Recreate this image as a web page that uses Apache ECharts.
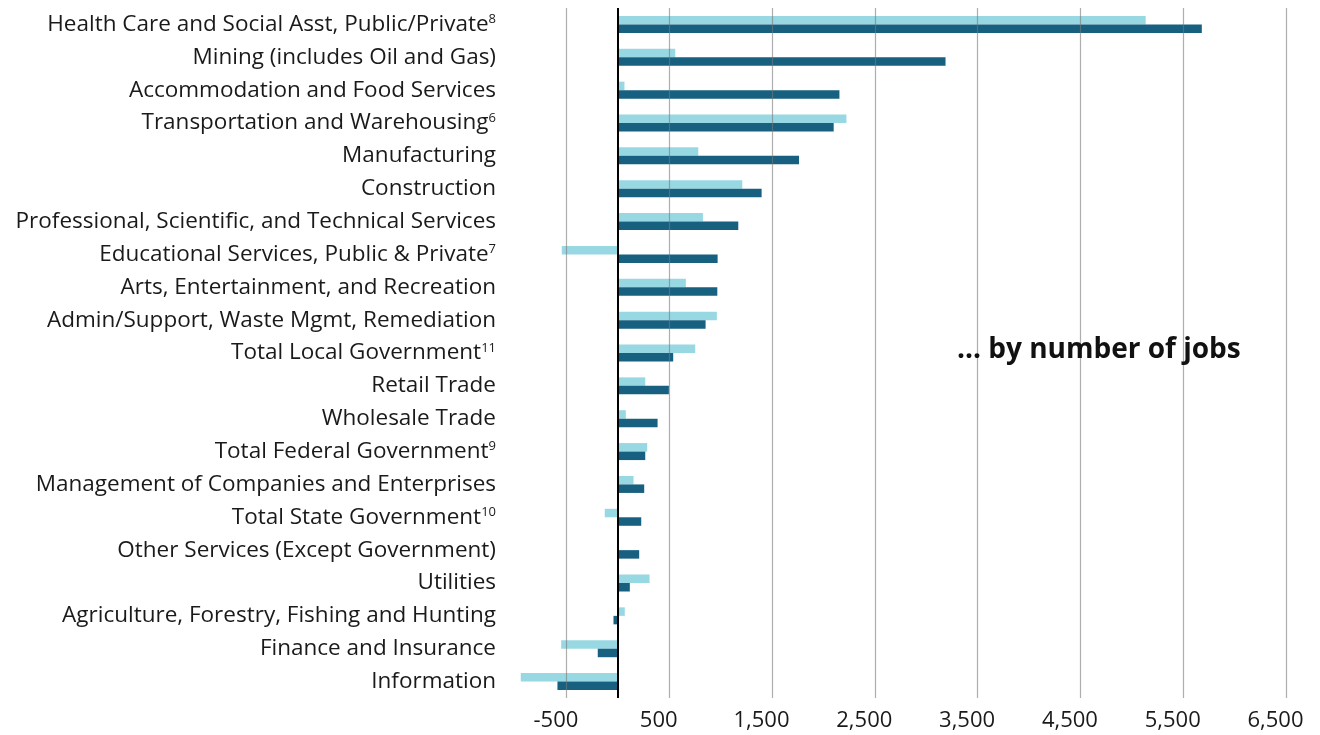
<!DOCTYPE html>
<html>
<head>
<meta charset="utf-8">
<script src="https://cdn.jsdelivr.net/npm/echarts@6/dist/echarts.min.js"></script>
<style>
html,body{margin:0;padding:0;background:#fff;}
#chart{width:1320px;height:735px;}
</style>
</head>
<body>
<div id="chart"></div>
<script>
const categories = [
  'Health Care and Social Asst, Public/Private',
  'Mining (includes Oil and Gas)',
  'Accommodation and Food Services',
  'Transportation and Warehousing',
  'Manufacturing',
  'Construction',
  'Professional, Scientific, and Technical Services',
  'Educational Services, Public & Private',
  'Arts, Entertainment, and Recreation',
  'Admin/Support, Waste Mgmt, Remediation',
  'Total Local Government',
  'Retail Trade',
  'Wholesale Trade',
  'Total Federal Government',
  'Management of Companies and Enterprises',
  'Total State Government',
  'Other Services (Except Government)',
  'Utilities',
  'Agriculture, Forestry, Fishing and Hunting',
  'Finance and Insurance',
  'Information'
];
const footnotes = ['8','','','6','','','','7','','','11','','','9','','10','','','','',''];
const lightValues = [5135, 559, 65, 2224, 783, 1211, 828, -545, 662, 964, 753, 267, 78, 286, 153, -127, 10, 309, 68, -551, -944];
const darkValues  = [5681, 3188, 2156, 2100, 1763, 1399, 1172, 971, 968, 854, 539, 497, 387, 267, 257, 228, 208, 117, -42, -195, -587];
const tickValues = [-500, 500, 1500, 2500, 3500, 4500, 5500, 6500];
const titleText = '... by number of jobs';

const chart = echarts.init(document.getElementById('chart'));
const gridLines = tickValues.map(v => ({ xAxis: v }));

chart.setOption({
  animation: false,
  backgroundColor: '#ffffff',
  textStyle: { fontFamily: 'Open Sans' },
  title: {
    text: titleText,
    left: 952,
    top: 331,
    textStyle: { fontFamily: 'Open Sans', fontSize: 28, fontWeight: 'bold', color: '#111' }
  },
  grid: { left: 515, right: 34, top: 8, bottom: 37, containLabel: false },
  xAxis: {
    type: 'value',
    min: -1000,
    max: 6500,
    interval: 500,
    axisLine: { show: false },
    axisTick: { show: false },
    splitLine: { show: false },
    axisLabel: {
      margin: 12,
      fontSize: 22,
      color: '#1a1a1a',
      fontFamily: 'Open Sans',
      padding: [0, 21, 0, 0],
      formatter: v => tickValues.includes(v) ? v.toLocaleString('en-US') : ''
    }
  },
  yAxis: {
    type: 'category',
    inverse: true,
    data: categories,
    axisLine: { show: false },
    axisTick: { show: false },
    splitLine: { show: false },
    axisLabel: {
      margin: 19,
      fontSize: 22.5,
      color: '#1a1a1a',
      fontFamily: 'Open Sans',
      formatter: (v, i) => footnotes[i] ? v + '{sup|' + footnotes[i] + '}' : v,
      rich: {
        sup: { fontSize: 13, verticalAlign: 'top', lineHeight: 13, color: '#1a1a1a', fontFamily: 'Open Sans' }
      }
    }
  },
  series: [
    {
      type: 'bar',
      name: 'light',
      data: lightValues,
      barWidth: 8.5,
      barGap: '0%',
      itemStyle: { color: '#98d8e3' },
      z: 2
    },
    {
      type: 'bar',
      name: 'dark',
      data: darkValues,
      barWidth: 8.5,
      barGap: '0%',
      itemStyle: { color: '#176080' },
      z: 2,
      markLine: {
        silent: true,
        symbol: 'none',
        label: { show: false },
        z: 5,
        lineStyle: { type: 'solid', color: 'rgba(120,120,120,0.6)', width: 1.2 },
        data: gridLines.concat([{ xAxis: 0, lineStyle: { color: '#000', width: 2 } }])
      }
    }
  ]
});
</script>
</body>
</html>
